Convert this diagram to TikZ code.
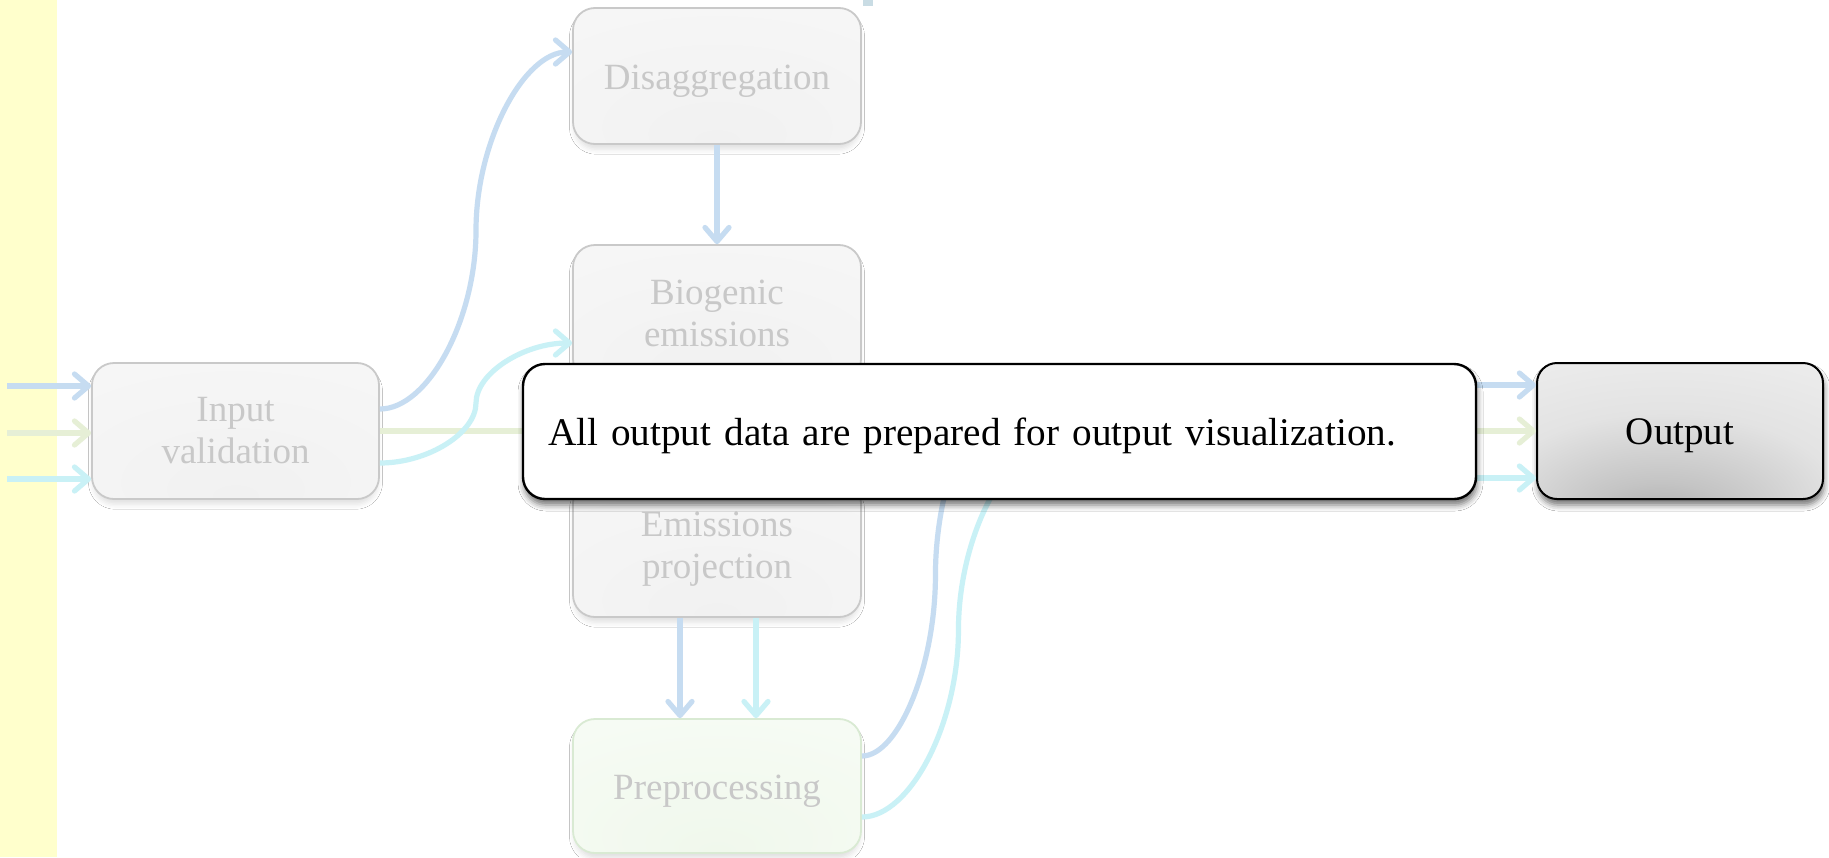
\documentclass[tikz,border=0pt]{standalone}
\usepackage{fontspec}
\setmainfont{Liberation Serif}
\usetikzlibrary{arrows.meta,calc,shadows.blur}

\definecolor{strip}{HTML}{FFFFCC}
\definecolor{flowblue}{HTML}{C6DCF1}
\definecolor{flowgreen}{HTML}{E6EFD6}
\definecolor{flowcyan}{HTML}{C9F1F6}
\definecolor{boxline}{HTML}{C9C9C9}
\definecolor{boxtext}{HTML}{C8C8C8}
\definecolor{preline}{HTML}{D9EAD3}
\definecolor{marker}{HTML}{C9DCE4}
% fills
\definecolor{gA}{HTML}{F1F1F1}
\definecolor{gB}{HTML}{F6F6F6}
\definecolor{gC}{HTML}{FDFDFD}
\definecolor{pA}{HTML}{F0F8EC}
\definecolor{pB}{HTML}{F6FBF4}
\definecolor{pC}{HTML}{FCFEFB}
\definecolor{oA}{HTML}{A6A6A6}
\definecolor{oB}{HTML}{C4C4C4}
\definecolor{oC}{HTML}{E3E3E3}
\definecolor{oD}{HTML}{F0F0F0}
\definecolor{oE}{HTML}{FBFBFB}

\pgfdeclareradialshading{softgray}{\pgfpoint{0bp}{-25bp}}%
  {color(0bp)=(gA); color(40bp)=(gB); color(80bp)=(gC)}
\pgfdeclareradialshading{softgreen}{\pgfpoint{0bp}{-25bp}}%
  {color(0bp)=(pA); color(40bp)=(pB); color(80bp)=(pC)}
\pgfdeclareradialshading{outshade}{\pgfpoint{-4bp}{-36bp}}%
  {color(0bp)=(oA); color(12bp)=(oB); color(30bp)=(oC); color(55bp)=(oD); color(85bp)=(oE)}

\tikzset{
  stage/.style={rounded corners=11pt, draw=boxline, line width=0.9pt,
    shading=softgray, minimum width=144pt, minimum height=68pt, inner sep=0pt,
    align=center, text=boxtext, font=\fontsize{18.5}{21}\selectfont,
    blur shadow={shadow xshift=0pt, shadow yshift=-3pt, shadow scale=0.99,
      shadow blur radius=2.5pt, shadow opacity=12}},
  oneline/.style={text height=17.8pt, text depth=4pt},
  flow/.style={draw=#1, line width=2.6pt,
    -{Straight Barb[length=7pt,width=12pt,round]}},
  wire/.style={draw=#1, line width=2.6pt},
  % S-shaped connector: horizontal ends, vertical at the midpoint
  scurve/.style={to path={
    let \p1=(\tikztostart), \p2=(\tikztotarget) in
    .. controls ({0.75*\x1+0.25*\x2},\y1) and ({0.5*\x1+0.5*\x2},{0.75*\y1+0.25*\y2})
    .. ({0.5*\x1+0.5*\x2},{0.5*\y1+0.5*\y2})
    .. controls ({0.5*\x1+0.5*\x2},{0.25*\y1+0.75*\y2}) and ({0.25*\x1+0.75*\x2},\y2)
    .. (\tikztotarget)}},
}

\begin{document}
\begin{tikzpicture}[x=0.5pt, y=-0.5pt]
\useasboundingbox (0,0) rectangle (1829,857);
\fill[white] (0,0) rectangle (1829,857);
\fill[strip] (0,0) rectangle (57,857);
\fill[marker] (863,0) rectangle (873,6);

% process stages
\node[stage, minimum width=143.5pt] (iv) at (235.5,431) {Input\\validation};
\node[stage, oneline] (dis) at (717,76) {Disaggregation};
\node[stage] (bio) at (717,313) {Biogenic\\emissions};
\node[stage] (emp) at (717,549) {Emissions\\projection};
\node[stage, oneline, shading=softgreen, draw=preline, minimum height=67pt] (pre) at (717,786) {Preprocessing};
\node[rounded corners=10pt, draw=black, line width=1pt, shading=outshade,
  minimum width=143pt, minimum height=68pt, inner sep=0pt,
  font=\fontsize{19.5}{22}\selectfont, text height=18.2pt, text depth=4.25pt,
  blur shadow={shadow xshift=0.5pt, shadow yshift=-3pt, shadow blur radius=3pt, shadow opacity=55}]
  (out) at (1680,431) {Output};

% ports
\coordinate (inB) at (7,386);
\coordinate (inG) at (7,433);
\coordinate (inC) at (7,479);
\coordinate (ivB) at ($(iv.east)+(0,-22)$);
\coordinate (ivC) at ($(iv.east)+(0,32)$);
\coordinate (disB) at ($(dis.west)+(0,-24)$);
\coordinate (bioC) at ($(bio.west)+(0,30)$);
\coordinate (preB) at ($(pre.east)+(0,-30)$);
\coordinate (preC) at ($(pre.east)+(0,31)$);
\coordinate (midB) at (1009,394);
\coordinate (midC) at (1055,443);
\coordinate (srcB) at (1300,385);
\coordinate (srcC) at (1300,478);
\coordinate (outB) at ($(out.west)+(0,-46)$);
\coordinate (outC) at ($(out.west)+(0,47)$);

% incoming data
\draw[flow=flowblue] (inB) -- (inB -| iv.west);
\draw[flow=flowgreen] (inG) -- (inG -| iv.west);
\draw[flow=flowcyan] (inC) -- (inC -| iv.west);

% connectors between stages
\draw[flow=flowgreen] (iv) -- (out);
\draw[flow=flowblue] (ivB) to[scurve] (disB);
\draw[flow=flowcyan] (ivC) to[scurve] (bioC);
\draw[flow=flowblue] (dis) -- (bio);
\draw[flow=flowblue] ($(emp.south)+(-37,0)$) -- ($(pre.north)+(-37,0)$);
\draw[flow=flowcyan] ($(emp.south)+(39,0)$) -- ($(pre.north)+(39,0)$);
\draw[wire=flowblue] (preB) to[scurve] (midB);
\draw[wire=flowcyan] (preC) to[scurve] (midC);
\draw[flow=flowblue] (srcB) -- (outB);
\draw[flow=flowcyan] (srcC) -- (outC);

% callout
\node[rounded corners=11pt, draw=black, line width=1.2pt, fill=white,
  text width=451.5pt, inner xsep=12.5pt, minimum height=67.5pt, align=left,
  font=\fontsize{19.6}{24}\selectfont, text height=18.5pt, text depth=4.3pt,
  blur shadow={shadow xshift=0.5pt, shadow yshift=-3pt, shadow blur radius=3pt, shadow opacity=55}]
  (note) at (999.5,431.5) {All output data are prepared for output visualization.};
\end{tikzpicture}
\end{document}
